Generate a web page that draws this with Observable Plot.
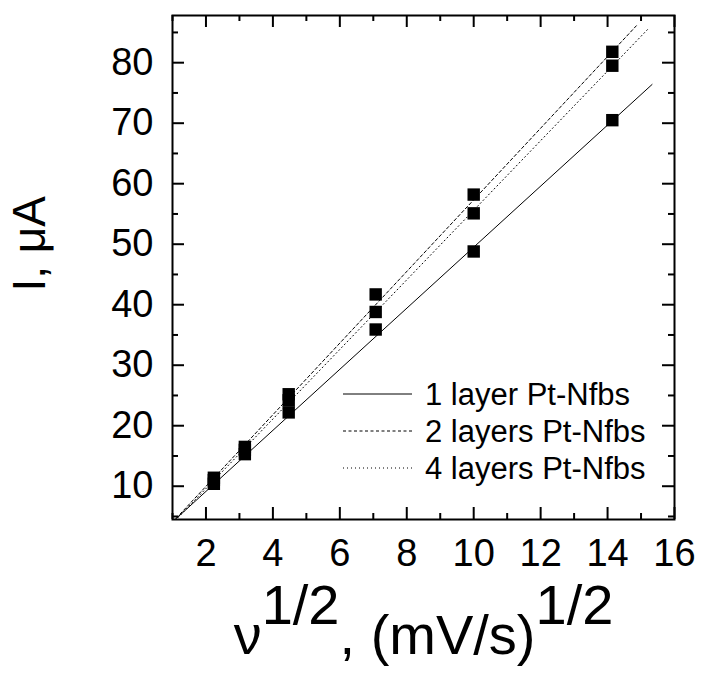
<!DOCTYPE html>
<html>
<head>
<meta charset="utf-8">
<script src="https://cdn.jsdelivr.net/npm/d3@7"></script>
<script src="https://cdn.jsdelivr.net/npm/@observablehq/plot@0.6"></script>
<style>
  html, body { margin: 0; padding: 0; background: #fff; }
  #chart svg { display: block; }
</style>
</head>
<body>
<div id="chart"></div>
<script>
// ---- data ----
const sqrtScanRate = [2.236, 3.162, 4.472, 7.071, 10, 14.142];
const seriesNames = ["1 layer Pt-Nfbs", "2 layers Pt-Nfbs", "4 layers Pt-Nfbs"];
const current1Layer = [10.4, 15.3, 22.2, 35.9, 48.8, 70.5];
const current2Layers = [11.4, 16.5, 25.2, 41.7, 58.2, 81.8];
const current4Layers = [11.0, 16.0, 24.2, 38.8, 55.1, 79.5];
const fitStartX = [1, 1, 1];
const fitStartY = [4.1, 4.06, 3.86];
const fitEndX = [15.33, 14.86, 15.25];
const fitEndY = [76.4, 86.1, 85.8];
const seriesDash = ["none", "3,2.5", "1,3"];
const xDomain = [1, 16];
const yDomain = [4.5, 87.8];
const xMajorTicks = [2, 4, 6, 8, 10, 12, 14, 16];
const xMinorTicks = [1, 3, 5, 7, 9, 11, 13, 15];
const yMajorTicks = [10, 20, 30, 40, 50, 60, 70, 80];
const yMinorTicks = [5, 15, 25, 35, 45, 55, 65, 75, 85];
const xLabelParts = ["ν", "1/2", ", (mV/s)", "1/2"];
const yLabel = "I, μA";

// ---- tables built from the arrays ----
const seriesValues = [current1Layer, current2Layers, current4Layers];
const points = seriesValues.flatMap((vals, s) =>
  vals.map((v, i) => ({series: seriesNames[s], x: sqrtScanRate[i], y: v})));
const fits = seriesNames.flatMap((name, s) => [
  {series: name, x: fitStartX[s], y: fitStartY[s]},
  {series: name, x: fitEndX[s], y: fitEndY[s]}
]);

const FONT = "'Liberation Sans', Arial, Helvetica, sans-serif";
const W = 702, H = 673, ML = 172, MR = 28, MT = 15, MB = 154;
const innerW = W - ML - MR, innerH = H - MT - MB;
const MAJOR = 12, MINOR = 6;
// tick lengths expressed in data units along each axis
const xPerPx = (xDomain[1] - xDomain[0]) / innerW;
const yPerPx = (yDomain[1] - yDomain[0]) / innerH;

const fitMarks = seriesNames.map((name, s) =>
  Plot.line(fits.filter(d => d.series === name), {
    x: "x", y: "y", stroke: "black", strokeWidth: 1,
    strokeDasharray: seriesDash[s] === "none" ? null : seriesDash[s],
    clip: true
  }));

const tickStyle = {stroke: "black", strokeWidth: 2};
const xTicks = (vals, len) => [
  Plot.ruleX(vals, {x: d => d, y1: yDomain[0], y2: yDomain[0] + len * yPerPx, ...tickStyle}),
  Plot.ruleX(vals, {x: d => d, y1: yDomain[1], y2: yDomain[1] - len * yPerPx, ...tickStyle})
];
const yTicks = (vals, len) => [
  Plot.ruleY(vals, {y: d => d, x1: xDomain[0], x2: xDomain[0] + len * xPerPx, ...tickStyle}),
  Plot.ruleY(vals, {y: d => d, x1: xDomain[1], x2: xDomain[1] - len * xPerPx, ...tickStyle})
];

const svg = Plot.plot({
  width: W,
  height: H,
  marginLeft: ML,
  marginRight: MR,
  marginTop: MT,
  marginBottom: MB,
  x: {domain: xDomain},
  y: {domain: yDomain},
  style: {fontFamily: FONT, background: "white", color: "black"},
  marks: [
    ...fitMarks,
    Plot.dot(points, {x: "x", y: "y", symbol: "square", r: 7, fill: "black", stroke: "none"}),
    ...xTicks(xMajorTicks, MAJOR),
    ...xTicks(xMinorTicks, MINOR),
    ...yTicks(yMajorTicks, MAJOR),
    ...yTicks(yMinorTicks, MINOR),
    Plot.axisX({anchor: "bottom", ticks: xMajorTicks, tickSize: 0, tickPadding: 20, fontSize: 38, label: null}),
    Plot.axisY({anchor: "left", ticks: yMajorTicks, tickSize: 0, tickPadding: 19, fontSize: 38, label: null}),
    Plot.frame({stroke: "black", strokeWidth: 2}),
    Plot.text([yLabel], {text: d => d, frameAnchor: "left", rotate: -90, dx: -142, dy: 24, fontSize: 46, fill: "black"}),
    Plot.text([xLabelParts.join("")], {text: d => d, frameAnchor: "bottom", dy: 134, fontSize: 56, fill: "black"})
  ]
});

// superscripts in the x label
const fullX = xLabelParts.join("");
d3.select(svg).selectAll("text").filter(function () { return this.textContent === fullX; })
  .each(function () {
    const t = d3.select(this);
    t.text(null);
    t.append("tspan").text(xLabelParts[0]);
    t.append("tspan").attr("dy", "-0.53em").text(xLabelParts[1]);
    t.append("tspan").attr("dy", "0.53em").text(xLabelParts[2]);
    t.append("tspan").attr("dy", "-0.53em").text(xLabelParts[3]);
  });

// legend inside the frame
const legend = d3.select(svg).append("g")
  .attr("font-family", FONT).attr("font-size", 31).attr("text-anchor", "start");
const rowY = [394, 431, 468];
seriesNames.forEach((name, s) => {
  legend.append("line")
    .attr("x1", 343).attr("x2", 412).attr("y1", rowY[s]).attr("y2", rowY[s])
    .attr("stroke", "black").attr("stroke-width", 1)
    .attr("stroke-dasharray", seriesDash[s] === "none" ? null : seriesDash[s]);
  legend.append("text")
    .attr("x", 425).attr("y", rowY[s]).attr("dy", "0.35em")
    .attr("fill", "black").text(name);
});

document.getElementById("chart").appendChild(svg);
</script>
</body>
</html>
